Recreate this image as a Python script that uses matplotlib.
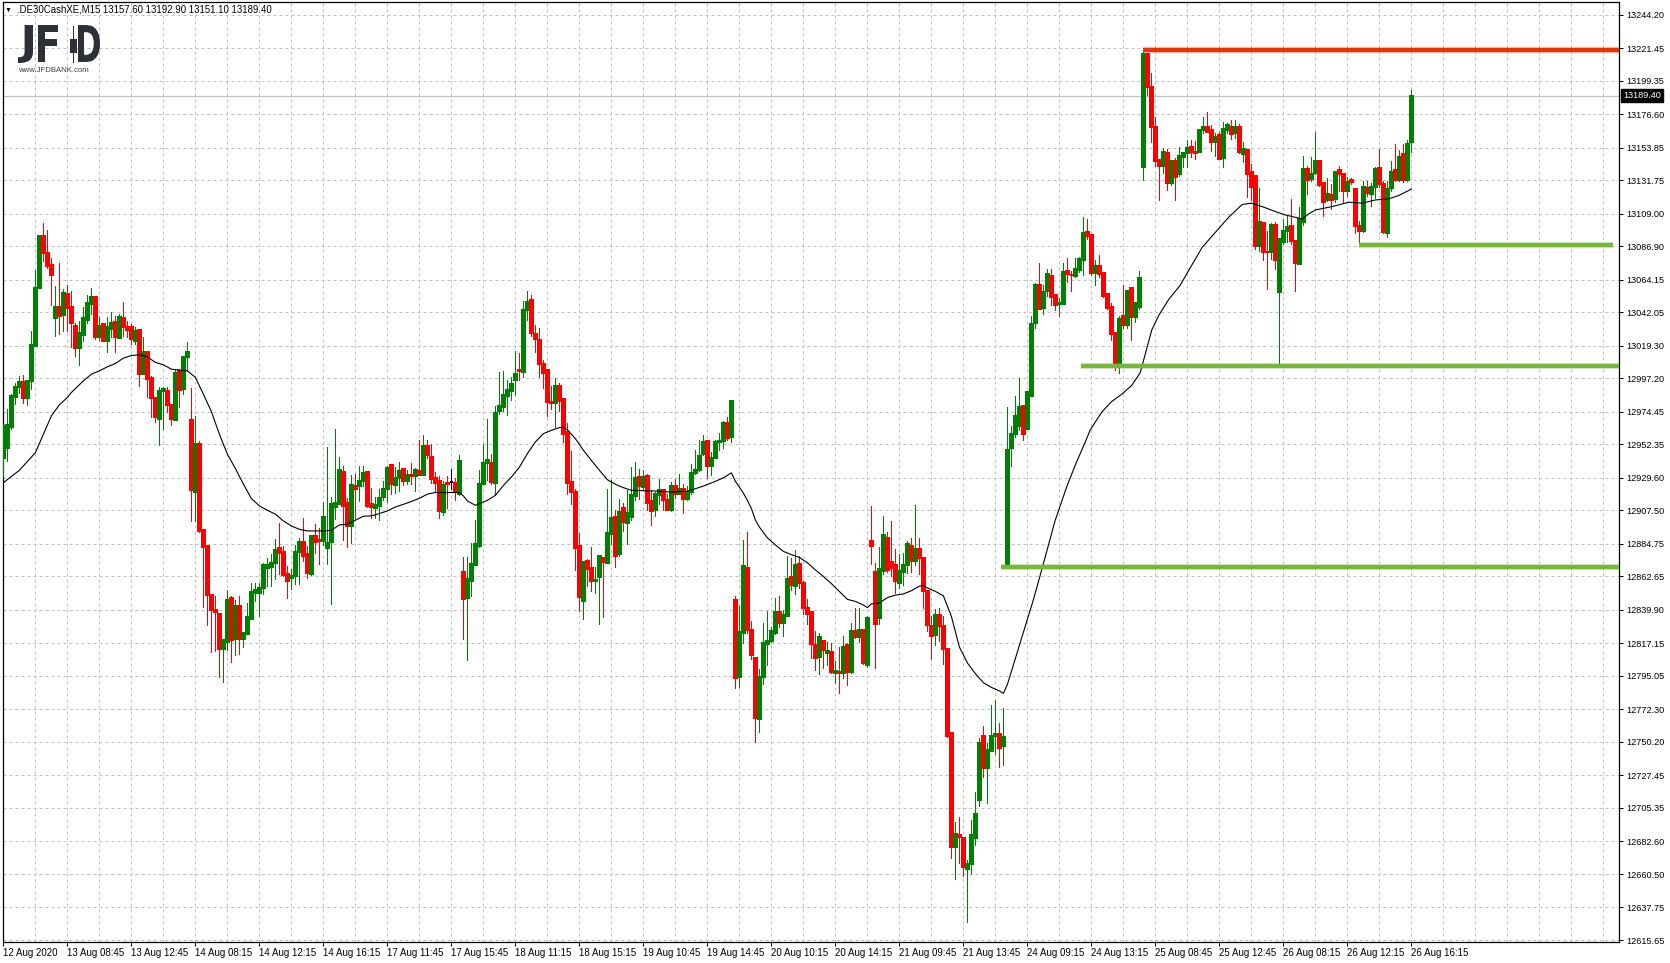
import numpy as np
import matplotlib
matplotlib.use("Agg")
import matplotlib.pyplot as plt
from matplotlib import transforms
from matplotlib.textpath import TextPath
from matplotlib.patches import PathPatch, Rectangle
from matplotlib.font_manager import FontProperties

symbol = ".DE30CashXE,M15"

# M15 bars (open, high, low, close)
bar_open = [
    12943.4, 12949.8, 12964.3, 12984.3, 12991.5, 12994.9, 12983.6, 12995.6, 13019.4, 13058.7,
    13094.3, 13082.2, 13074.5, 13038.0, 13045.9, 13040.5, 13054.8, 13045.9, 13033.0, 13017.6,
    13026.7, 13036.9, 13047.7, 13052.7, 13025.1, 13034.2, 13022.4, 13030.8, 13035.3, 13024.4,
    13038.0, 13032.3, 13032.3, 13022.8, 13030.3, 13000.1, 13014.9, 12997.2, 12983.6, 12970.0,
    12988.8, 12988.8, 12979.3, 12969.3, 13002.4, 12989.9, 13011.5, 12968.8, 12920.3, 12952.5,
    12894.0, 12883.3, 12850.0, 12839.8, 12837.5, 12813.5, 12818.2, 12847.7, 12820.3, 12842.6,
    12819.9, 12823.7, 12833.5, 12851.6, 12851.6, 12855.0, 12868.2, 12869.1, 12872.0, 12882.3,
    12879.3, 12864.6, 12861.4, 12863.0, 12879.3, 12886.1, 12877.7, 12864.6, 12890.2, 12887.7,
    12886.8, 12881.8, 12886.3, 12909.9, 12911.7, 12933.7, 12912.4, 12897.0, 12924.2, 12923.8,
    12927.6, 12933.7, 12911.7, 12909.5, 12910.6, 12916.7, 12921.9, 12938.5, 12924.9, 12929.9,
    12935.6, 12927.6, 12931.7, 12931.0, 12934.4, 12931.7, 12951.4, 12944.0, 12929.4, 12927.6,
    12906.8, 12926.5, 12926.9, 12926.0, 12918.5, 12865.7, 12848.2, 12859.6, 12870.6, 12883.7,
    12925.7, 12939.7, 12939.7, 12926.1, 12974.9, 12977.9, 12985.1, 12988.7, 12996.0, 13002.8,
    13001.7, 13043.6, 13050.4, 13027.3, 13023.2, 13007.3, 13002.8, 12981.3, 12980.8, 12991.9,
    12983.1, 12960.9, 12926.8, 12919.8, 12883.1, 12845.9, 12873.1, 12868.5, 12859.9, 12862.2,
    12875.1, 12871.9, 12891.2, 12903.0, 12877.6, 12909.1, 12898.9, 12903.0, 12917.3, 12930.2,
    12923.4, 12930.7, 12913.9, 12907.6, 12918.2, 12921.2, 12914.8, 12908.0, 12923.9, 12918.9,
    12922.3, 12915.1, 12920.0, 12933.2, 12935.2, 12945.6, 12954.5, 12937.5, 12942.9, 12954.0,
    12954.5, 12966.7, 12957.4, 12846.9, 12794.1, 12824.5, 12868.7, 12826.5, 12807.5, 12765.5,
    12794.1, 12816.5, 12818.9, 12824.5, 12838.6, 12831.1, 12835.5, 12862.2, 12856.1, 12871.4,
    12858.5, 12841.5, 12838.6, 12816.0, 12808.2, 12818.9, 12810.7, 12811.2, 12797.3, 12797.8,
    12797.3, 12816.0, 12797.8, 12825.7, 12821.4, 12826.2, 12802.6, 12887.0, 12865.8, 12834.2,
    12866.5, 12888.9, 12872.4, 12870.2, 12858.5, 12865.8, 12870.2, 12883.6, 12873.1, 12881.1,
    12875.1, 12852.5, 12828.9, 12822.8, 12836.2, 12828.7, 12813.6, 12756.5, 12678.7, 12686.7,
    12684.8, 12664.1, 12667.3, 12684.8, 12711.0, 12754.5, 12732.2, 12744.3, 12754.5, 12755.3,
    12747.5, 12871.2, 12950.1, 12959.8, 12965.2, 12978.8, 12962.7, 12985.3, 13035.1, 13061.0,
    13044.8, 13056.9, 13067.1, 13053.7, 13047.7, 13047.7, 13070.3, 13067.8, 13067.1, 13071.0,
    13077.5, 13096.9, 13095.0, 13069.0, 13073.9, 13069.0, 13054.5, 13046.0, 13027.8, 13005.9,
    13039.4, 13033.4, 13058.9, 13038.7, 13046.0, 13140.6, 13217.6, 13195.2, 13167.8, 13145.5,
    13141.4, 13150.3, 13129.7, 13145.0, 13136.0, 13147.6, 13150.3, 13154.4, 13151.2, 13151.0,
    13165.7, 13168.4, 13165.7, 13157.8, 13162.3, 13146.9, 13165.7, 13168.4, 13163.9, 13168.4,
    13149.8, 13152.6, 13137.4, 13134.6, 13087.0, 13102.7, 13083.4, 13082.9, 13101.8, 13055.7,
    13089.7, 13097.2, 13101.1, 13090.9, 13075.0, 13103.3, 13139.2, 13132.4, 13136.7, 13144.8,
    13129.9, 13118.5, 13122.2, 13119.2, 13138.9, 13135.8, 13124.9, 13132.1, 13126.0, 13100.6,
    13097.2, 13126.5, 13122.6, 13127.6, 13140.3, 13129.0, 13095.9, 13126.7, 13138.9, 13132.1,
    13149.8, 13132.1, 13157.6,
]
bar_high = [
    12965.0, 12976.3, 12986.5, 12993.8, 12999.0, 12999.7, 12995.6, 13029.6, 13071.1, 13094.9,
    13102.9, 13098.3, 13079.1, 13060.2, 13075.4, 13058.0, 13060.9, 13056.8, 13034.6, 13036.0,
    13045.9, 13054.1, 13058.7, 13052.7, 13038.7, 13034.2, 13038.7, 13042.5, 13039.8, 13041.0,
    13048.9, 13036.4, 13034.2, 13031.9, 13030.3, 13025.1, 13014.9, 12999.0, 12983.6, 12991.1,
    12991.5, 12991.1, 12979.3, 13003.5, 13003.5, 13012.6, 13021.7, 12990.6, 12971.8, 12954.8,
    12894.0, 12883.3, 12850.0, 12849.3, 12837.5, 12819.8, 12853.8, 12849.3, 12847.0, 12849.4,
    12824.4, 12844.8, 12858.4, 12858.0, 12858.0, 12872.0, 12875.5, 12877.7, 12888.4, 12899.3,
    12883.4, 12869.8, 12867.5, 12883.9, 12889.1, 12902.7, 12883.4, 12890.2, 12898.1, 12895.9,
    12913.6, 12950.3, 12916.7, 12962.8, 12944.0, 12937.8, 12916.3, 12931.7, 12932.1, 12937.8,
    12937.8, 12934.4, 12922.6, 12916.7, 12921.9, 12927.6, 12937.8, 12939.0, 12937.1, 12940.5,
    12935.6, 12934.9, 12940.1, 12936.7, 12955.5, 12958.9, 12955.5, 12952.6, 12933.7, 12930.6,
    12927.6, 12931.0, 12935.6, 12929.4, 12945.1, 12875.9, 12875.9, 12885.7, 12901.2, 12935.2,
    12952.9, 12969.9, 12946.1, 12978.3, 13001.7, 13002.4, 12996.0, 12998.3, 13016.0, 13014.2,
    13050.0, 13056.6, 13053.8, 13033.4, 13031.2, 13009.6, 13002.8, 12991.9, 12997.8, 12994.2,
    12983.1, 12967.0, 12947.9, 12922.3, 12892.1, 12873.5, 12874.7, 12882.6, 12869.0, 12876.9,
    12875.1, 12921.8, 12928.0, 12907.6, 12915.5, 12912.5, 12921.6, 12937.0, 12940.4, 12935.4,
    12934.8, 12932.5, 12921.2, 12920.0, 12929.1, 12922.3, 12918.9, 12926.8, 12929.1, 12932.5,
    12925.7, 12923.9, 12939.3, 12948.4, 12955.2, 12958.6, 12955.6, 12947.2, 12955.7, 12960.1,
    12968.6, 12971.0, 12982.5, 12849.5, 12842.3, 12887.7, 12893.0, 12832.5, 12807.5, 12799.5,
    12831.1, 12839.1, 12828.2, 12848.1, 12849.5, 12839.8, 12876.3, 12875.1, 12880.4, 12876.8,
    12859.7, 12847.6, 12838.6, 12825.7, 12824.5, 12819.7, 12818.4, 12817.2, 12805.1, 12814.8,
    12822.1, 12817.2, 12831.1, 12841.5, 12841.0, 12826.2, 12835.9, 12910.8, 12871.9, 12882.8,
    12904.0, 12892.6, 12900.6, 12881.1, 12878.0, 12878.7, 12886.5, 12888.9, 12911.5, 12888.9,
    12875.1, 12852.5, 12835.5, 12840.3, 12841.0, 12835.5, 12813.6, 12756.5, 12695.7, 12699.4,
    12684.8, 12670.2, 12697.4, 12715.9, 12752.8, 12761.3, 12749.2, 12775.2, 12778.8, 12763.0,
    12773.5, 12978.0, 12964.7, 12985.3, 12997.4, 12979.2, 12988.9, 13039.4, 13062.2, 13075.8,
    13061.0, 13071.9, 13071.9, 13054.0, 13051.6, 13075.8, 13079.2, 13070.3, 13079.2, 13080.0,
    13106.7, 13105.4, 13095.7, 13077.5, 13081.2, 13069.5, 13054.5, 13048.4, 13027.8, 13039.4,
    13060.5, 13056.9, 13059.3, 13048.4, 13070.3, 13220.0, 13217.6, 13205.0, 13174.6, 13145.5,
    13154.0, 13152.8, 13145.5, 13147.0, 13154.4, 13150.3, 13159.4, 13158.9, 13158.4, 13165.7,
    13175.2, 13178.2, 13169.1, 13163.9, 13164.6, 13171.4, 13170.7, 13172.9, 13172.9, 13170.2,
    13157.8, 13153.2, 13143.0, 13134.6, 13126.7, 13102.7, 13097.7, 13102.7, 13103.3, 13092.0,
    13105.6, 13107.9, 13119.2, 13090.9, 13113.5, 13148.7, 13141.4, 13147.6, 13165.0, 13145.3,
    13130.6, 13133.5, 13129.4, 13138.5, 13141.9, 13135.8, 13133.9, 13133.5, 13126.0, 13104.5,
    13131.7, 13131.7, 13129.9, 13141.2, 13153.2, 13131.7, 13131.7, 13145.3, 13156.6, 13152.1,
    13156.6, 13158.9, 13192.9,
]
bar_low = [
    12931.0, 12941.2, 12963.0, 12979.7, 12987.0, 12980.2, 12979.0, 12989.9, 13019.4, 13058.7,
    13077.2, 13072.0, 13047.3, 13026.2, 13027.4, 13029.6, 13029.6, 13018.3, 13012.6, 13006.5,
    13022.8, 13034.6, 13041.0, 13024.0, 13023.3, 13022.4, 13014.9, 13025.1, 13014.9, 13024.4,
    13026.2, 13025.1, 13020.5, 13020.5, 12992.2, 13000.1, 12984.7, 12971.1, 12967.7, 12951.8,
    12962.7, 12974.1, 12965.7, 12969.3, 12977.5, 12986.5, 13002.4, 12900.3, 12900.3, 12892.9,
    12841.8, 12829.6, 12811.4, 12812.3, 12794.2, 12791.0, 12813.0, 12804.6, 12809.6, 12810.1,
    12814.7, 12823.7, 12833.5, 12846.0, 12835.8, 12850.5, 12856.2, 12856.2, 12860.7, 12864.6,
    12863.0, 12848.2, 12853.9, 12857.8, 12857.8, 12873.2, 12861.4, 12863.7, 12878.9, 12871.4,
    12884.1, 12870.9, 12844.2, 12901.5, 12911.7, 12887.2, 12882.7, 12885.7, 12902.7, 12914.0,
    12924.2, 12909.9, 12902.2, 12902.7, 12900.9, 12914.5, 12913.6, 12919.0, 12919.7, 12920.8,
    12924.9, 12925.8, 12925.8, 12920.8, 12931.7, 12931.7, 12943.0, 12926.0, 12920.8, 12902.7,
    12904.3, 12909.5, 12922.0, 12914.5, 12918.1, 12819.9, 12805.6, 12849.4, 12870.6, 12882.6,
    12925.7, 12927.9, 12925.2, 12917.8, 12973.3, 12975.2, 12972.2, 12982.4, 12985.8, 12996.0,
    12998.3, 13037.2, 13026.0, 13015.3, 12998.3, 12991.0, 12971.5, 12976.7, 12964.3, 12975.1,
    12954.0, 12918.9, 12911.6, 12867.2, 12839.5, 12833.8, 12856.1, 12853.1, 12851.3, 12830.4,
    12835.0, 12871.9, 12884.9, 12869.0, 12876.9, 12893.5, 12884.9, 12901.2, 12914.4, 12915.0,
    12921.6, 12907.6, 12897.3, 12903.5, 12911.6, 12908.0, 12907.6, 12907.1, 12916.2, 12918.4,
    12905.7, 12914.4, 12918.9, 12932.5, 12934.3, 12945.0, 12929.6, 12931.4, 12942.9, 12948.4,
    12949.7, 12955.7, 12954.0, 12786.9, 12787.3, 12817.2, 12824.5, 12806.3, 12749.9, 12757.0,
    12789.3, 12802.6, 12818.4, 12823.3, 12828.2, 12822.1, 12835.5, 12853.7, 12850.8, 12854.9,
    12837.4, 12830.6, 12807.5, 12799.0, 12796.1, 12800.2, 12802.2, 12797.1, 12790.5, 12783.2,
    12793.7, 12788.8, 12797.1, 12820.9, 12818.4, 12803.4, 12801.4, 12871.4, 12800.7, 12830.6,
    12864.1, 12865.8, 12862.7, 12851.3, 12854.9, 12856.8, 12865.1, 12865.8, 12870.7, 12864.6,
    12841.0, 12825.7, 12806.3, 12816.0, 12818.9, 12803.4, 12753.3, 12671.4, 12656.8, 12667.8,
    12659.3, 12627.7, 12660.5, 12679.9, 12706.6, 12726.6, 12708.6, 12744.3, 12741.9, 12733.4,
    12734.6, 12871.2, 12938.0, 12957.4, 12962.3, 12955.7, 12962.7, 12985.3, 13031.4, 13044.3,
    13041.1, 13053.3, 13047.2, 13043.6, 13039.4, 13047.7, 13063.0, 13056.4, 13066.1, 13069.5,
    13067.3, 13092.1, 13067.3, 13060.5, 13066.1, 13052.5, 13044.3, 13023.4, 13003.0, 13001.1,
    13031.4, 13031.4, 13023.4, 13035.8, 13044.3, 13132.1, 13189.9, 13157.6, 13141.9, 13118.3,
    13137.0, 13125.3, 13128.5, 13118.2, 13135.0, 13141.2, 13140.8, 13148.0, 13146.2, 13151.0,
    13164.1, 13164.6, 13151.6, 13148.7, 13146.0, 13140.8, 13163.9, 13160.0, 13160.7, 13150.3,
    13144.2, 13120.4, 13118.5, 13085.2, 13084.1, 13077.7, 13058.0, 13078.4, 13071.6, 13007.4,
    13088.6, 13089.7, 13088.6, 13056.4, 13075.0, 13101.8, 13122.6, 13131.7, 13135.8, 13128.3,
    13107.9, 13117.6, 13112.4, 13116.9, 13124.9, 13116.5, 13121.5, 13129.4, 13095.9, 13089.7,
    13096.5, 13121.5, 13114.7, 13119.7, 13127.2, 13095.9, 13093.1, 13124.9, 13131.7, 13131.7,
    13130.6, 13131.7, 13151.1,
]
bar_close = [
    12965.0, 12965.7, 12985.4, 12991.5, 12994.9, 12983.6, 12995.6, 13020.1, 13058.7, 13093.8,
    13082.2, 13073.4, 13067.7, 13045.9, 13039.8, 13055.5, 13044.8, 13034.6, 13017.6, 13028.3,
    13038.0, 13048.2, 13052.3, 13025.5, 13033.0, 13022.8, 13031.9, 13034.6, 13025.1, 13039.1,
    13031.9, 13030.3, 13024.0, 13029.6, 13000.1, 13015.3, 12996.7, 12983.6, 12970.7, 12988.8,
    12989.9, 12979.3, 12970.0, 13001.0, 12989.7, 13011.9, 13015.3, 12921.7, 12952.5, 12893.5,
    12882.9, 12850.0, 12839.8, 12838.7, 12813.5, 12819.8, 12846.6, 12819.4, 12842.5, 12819.9,
    12824.4, 12835.1, 12852.1, 12853.5, 12855.0, 12870.5, 12870.5, 12872.0, 12880.7, 12878.9,
    12863.7, 12859.6, 12863.0, 12879.3, 12886.1, 12876.6, 12865.2, 12890.2, 12886.3, 12886.8,
    12903.1, 12885.7, 12911.7, 12912.4, 12934.9, 12910.6, 12897.0, 12924.9, 12922.4, 12927.6,
    12932.8, 12910.6, 12910.2, 12911.1, 12916.3, 12921.9, 12936.2, 12925.3, 12929.4, 12934.4,
    12927.2, 12931.7, 12930.6, 12935.1, 12931.7, 12951.4, 12945.1, 12928.8, 12926.5, 12907.2,
    12924.9, 12925.8, 12926.9, 12920.4, 12941.2, 12847.1, 12860.7, 12870.9, 12884.9, 12925.7,
    12939.7, 12941.6, 12926.8, 12974.0, 12978.3, 12985.8, 12989.2, 12993.7, 13000.1, 13002.4,
    13043.6, 13048.9, 13027.8, 13023.9, 13007.3, 13001.0, 12981.3, 12980.6, 12991.9, 12981.9,
    12959.7, 12926.4, 12920.1, 12881.9, 12848.6, 12872.4, 12867.6, 12859.3, 12860.4, 12876.9,
    12872.8, 12892.1, 12902.3, 12876.9, 12906.4, 12899.6, 12905.7, 12917.8, 12929.5, 12923.9,
    12930.2, 12912.5, 12907.1, 12918.4, 12921.2, 12914.4, 12908.0, 12923.9, 12918.4, 12922.3,
    12915.1, 12920.0, 12933.2, 12935.2, 12944.3, 12954.1, 12937.5, 12942.9, 12954.0, 12955.0,
    12967.2, 12957.0, 12981.7, 12793.7, 12825.0, 12870.0, 12826.5, 12809.4, 12766.2, 12794.6,
    12817.2, 12818.9, 12825.7, 12838.6, 12831.3, 12836.2, 12861.0, 12856.6, 12870.7, 12858.5,
    12841.5, 12837.4, 12816.7, 12807.5, 12821.6, 12812.4, 12811.9, 12797.8, 12798.3, 12797.3,
    12814.8, 12797.8, 12825.7, 12821.4, 12826.5, 12803.9, 12834.7, 12883.6, 12830.6, 12867.5,
    12890.6, 12867.0, 12868.7, 12859.3, 12866.6, 12870.7, 12884.5, 12873.1, 12881.6, 12875.5,
    12852.5, 12829.4, 12822.1, 12836.7, 12828.9, 12813.1, 12754.5, 12678.7, 12687.7, 12685.8,
    12665.3, 12667.3, 12686.7, 12701.3, 12749.2, 12732.7, 12744.8, 12754.5, 12755.7, 12746.3,
    12753.3, 12948.9, 12959.8, 12972.0, 12978.0, 12959.8, 12987.7, 13034.3, 13060.5, 13044.3,
    13056.2, 13068.5, 13052.5, 13047.2, 13048.4, 13069.5, 13068.5, 13067.3, 13071.5, 13078.3,
    13096.2, 13093.8, 13069.0, 13073.9, 13068.5, 13053.2, 13045.3, 13027.3, 13005.5, 13037.5,
    13033.4, 13056.9, 13038.7, 13048.4, 13065.4, 13217.6, 13195.2, 13167.8, 13144.8, 13141.4,
    13151.1, 13129.7, 13145.0, 13134.0, 13148.7, 13150.3, 13153.7, 13151.0, 13150.5, 13165.7,
    13168.4, 13165.0, 13157.8, 13161.6, 13146.0, 13166.4, 13169.1, 13163.4, 13168.4, 13151.0,
    13152.8, 13135.8, 13127.6, 13087.5, 13103.3, 13082.9, 13082.9, 13101.8, 13077.9, 13092.0,
    13097.7, 13100.4, 13090.9, 13075.4, 13105.6, 13139.2, 13132.1, 13136.2, 13145.3, 13128.7,
    13117.0, 13122.6, 13118.5, 13137.8, 13135.8, 13124.9, 13130.6, 13130.6, 13100.6, 13097.7,
    13127.2, 13123.1, 13127.6, 13139.6, 13129.0, 13096.5, 13126.0, 13137.4, 13132.1, 13148.0,
    13132.1, 13156.6, 13189.4,
]

# moving average drawn on the chart (bar position, value)
ma_bar = [
    0, 4, 8, 10, 12, 14, 16, 17, 20, 22, 24, 26, 28, 30, 32, 34, 36, 38, 40, 42,
    44, 46, 48, 50, 52, 54, 56, 58, 60, 62, 64, 66, 68, 70, 72, 74, 76, 80, 82, 84,
    86, 88, 90, 92, 94, 96, 98, 100, 102, 104, 106, 108, 114, 115, 116, 118, 121, 123, 125, 127,
    129, 131, 133, 135, 137, 139, 140, 141, 143, 145, 147, 149, 151, 153, 155, 157, 163, 167, 171, 173,
    175, 178, 180, 182, 183, 184, 185, 186, 187, 188, 189, 191, 193, 195, 197, 199, 201, 203, 205, 207,
    209, 211, 213, 215, 216, 217, 219, 221, 223, 225, 227, 229, 230, 231, 233, 235, 237, 239, 241, 243,
    245, 247, 249, 250, 251, 257.5, 259.6, 262.9, 265.8, 267.9, 270.4, 271.7, 274.6, 277.1, 279.6, 282.1,
    284.2, 285.4, 287.1, 288.8, 291.3, 294.2, 296.3, 299.7, 303, 306.3, 309.7, 312, 314.7, 318,
    320.5, 323, 324.7, 326.3, 328, 331.3, 333.8, 336.3, 339.7, 343, 346.3, 348.8, 351.3, 352,
]
ma_value = [
    12926.4, 12934.8, 12946.8, 12959.3, 12971.8, 12979.3, 12984.3, 12987.7, 12995.6, 13000.1,
    13002.4, 13005.1, 13007.4, 13011.0, 13012.8, 13013.3, 13011.9, 13008.1, 13006.5, 13003.5,
    13002.9, 13002.4, 12997.9, 12986.5, 12974.7, 12959.3, 12945.7, 12936.0, 12925.4, 12915.6,
    12910.6, 12907.6, 12905.0, 12900.4, 12897.0, 12894.7, 12893.6, 12893.6, 12894.0, 12897.7,
    12898.2, 12900.9, 12903.6, 12903.8, 12905.4, 12907.2, 12909.9, 12911.7, 12913.6, 12915.8,
    12918.6, 12919.7, 12919.7, 12917.4, 12914.0, 12911.0, 12914.4, 12917.8, 12924.5, 12930.2,
    12937.0, 12946.1, 12954.1, 12959.7, 12962.0, 12963.8, 12964.0, 12962.4, 12956.3, 12948.4,
    12941.5, 12934.8, 12928.4, 12925.3, 12923.0, 12921.2, 12920.7, 12920.0, 12920.6, 12922.3,
    12924.1, 12927.3, 12929.7, 12933.1, 12927.3, 12923.4, 12919.3, 12914.4, 12908.8, 12901.0,
    12896.2, 12888.9, 12884.1, 12879.7, 12877.5, 12875.6, 12872.0, 12867.1, 12862.7, 12857.8,
    12852.5, 12847.1, 12845.7, 12843.2, 12841.5, 12844.0, 12844.7, 12848.3, 12850.0, 12850.8,
    12853.0, 12856.1, 12856.6, 12854.9, 12852.5, 12849.5, 12835.5, 12814.8, 12803.9, 12796.6,
    12790.5, 12787.3, 12784.9, 12783.2, 12789.3, 12846.9, 12867.4, 12900.4, 12923.4, 12937.9,
    12953.7, 12962.2, 12974.4, 12981.6, 12986.5, 12992.6, 13001.1, 13013.2, 13030.2, 13039.9,
    13050.8, 13060.5, 13070.5, 13086.3, 13096.5, 13106.7, 13115.4, 13116.3, 13114.0, 13110.6,
    13108.3, 13106.7, 13105.6, 13109.0, 13111.7, 13113.5, 13115.1, 13117.0, 13116.3, 13118.5,
    13119.2, 13121.5, 13124.9, 13126.0,
]

# hand drawn levels: price, first bar, last bar
level_price = [13220.5, 13088.1, 13005.5, 12869.0]
level_start = [285, 339, 269.5, 249.5]
level_end = [404, 402.5, 404, 404]
level_color = ["#e5330c", "#78b53f", "#78b53f", "#78b53f"]

xtick_labels = [
    "12 Aug 2020", "13 Aug 08:45", "13 Aug 12:45", "14 Aug 08:15", "14 Aug 12:15",
    "14 Aug 16:15", "17 Aug 11:45", "17 Aug 15:45", "18 Aug 11:15", "18 Aug 15:15",
    "19 Aug 10:45", "19 Aug 14:45", "20 Aug 10:15", "20 Aug 14:15", "21 Aug 09:45",
    "21 Aug 13:45", "24 Aug 09:15", "24 Aug 13:15", "25 Aug 08:45", "25 Aug 12:45",
    "26 Aug 08:15", "26 Aug 12:15", "26 Aug 16:15",
]
ytick_values = [
    13244.20, 13221.45, 13199.35, 13176.60, 13153.85, 13131.75, 13109.00, 13086.90,
    13064.15, 13042.05, 13019.30, 12997.20, 12974.45, 12952.35, 12929.60, 12907.50,
    12884.75, 12862.65, 12839.90, 12817.15, 12795.05, 12772.30, 12750.20, 12727.45,
    12705.35, 12682.60, 12660.50, 12637.75, 12615.65,
]

plt.rcParams["font.family"] = ["Liberation Sans", "DejaVu Sans"]

W, H = 1670, 963
fig = plt.figure(figsize=(W / 100, H / 100), dpi=100)
ax = fig.add_axes([3 / W, 1 - 942 / H, 1616 / W, 940 / H])

o = np.array(bar_open)
h = np.array(bar_high)
l = np.array(bar_low)
c = np.array(bar_close)
x = np.arange(len(c))
cols = np.where(c > o, "#008000", np.where(c < o, "#ff0000", "#000000"))

# candles
ax.vlines(x, l, h, colors=cols, lw=0.72, zorder=3, antialiased=False)
ax.bar(x, np.abs(c - o), bottom=np.minimum(o, c), width=0.75, color=cols,
       edgecolor=cols, lw=0.3, zorder=4, antialiased=False)

# moving average
ax.plot(ma_bar, ma_value, color="black", lw=0.8, zorder=5)

# current price line
ax.axhline(c[-1], color="#c0c0c0", lw=0.9, zorder=1)

# levels
for p, s, e, col in zip(level_price, level_start, level_end, level_color):
    ax.hlines(p, s, e, color=col, lw=4.6, alpha=0.35, zorder=6)
    ax.hlines(p, s, e, color=col, lw=2.9, zorder=7)

ax.set_xlim(-0.1, 403.9)
ax.set_ylim(12614.3, 13253.0)

# axes, ticks and grid
ax.yaxis.tick_right()
ax.set_yticks(ytick_values)
ax.set_yticklabels([f"{v:.2f}" for v in ytick_values])
ax.set_xticks(np.arange(0, len(c), 16))
ax.set_xticklabels(xtick_labels)
ax.set_xticks(np.arange(0, 405, 8), minor=True)
for lab in ax.get_xticklabels():
    lab.set_ha("left")
ax.tick_params(axis="x", which="major", length=3, width=0.72, pad=1.5, labelsize=7)
ax.tick_params(axis="x", which="minor", length=0)
ax.tick_params(axis="y", length=3, width=0.72, pad=2, labelsize=6.6)
ax.grid(which="both", color="#c0c0c0", lw=0.72, ls=(0, (3, 3)), zorder=0)
ax.set_axisbelow(True)
for sp in ax.spines.values():
    sp.set_linewidth(0.9)

# price box on the right
tr = transforms.blended_transform_factory(ax.transAxes, ax.transData)
ax.text(1.0025, c[-1], f"{c[-1]:.2f}", transform=tr, color="white", fontsize=6.6,
        va="center", ha="left",
        bbox=dict(facecolor="black", edgecolor="black", pad=1.6), zorder=10, clip_on=False)

# header
fig.text(5 / W, 1 - 10 / H, "\u25bc", fontsize=5, va="center", ha="left")
fig.text(17 / W, 1 - 10 / H,
         f"{symbol} {o[-1]:.2f} {h[-1]:.2f} {l[-1]:.2f} {c[-1]:.2f}",
         fontsize=6.9, va="center", ha="left")

# JFD logo
fp = FontProperties(family="DejaVu Sans", weight="bold")
logo_col = "#2c3137"


def logo_letter(ch, x0, x1, y0, y1):
    tp = TextPath((0, 0), ch, size=100, prop=fp)
    bb = tp.get_extents()
    t = transforms.Affine2D().translate(-bb.x0, -bb.y0).scale(
        (x1 - x0) / bb.width, (y1 - y0) / bb.height).translate(x0, H - y1)
    fig.add_artist(PathPatch(t.transform_path(tp), facecolor=logo_col, lw=0,
                             transform=transforms.IdentityTransform()))


logo_letter("J", 18, 33, 25, 63)
logo_letter("F", 38, 58, 25, 62)
logo_letter("D", 78, 100, 25, 62)
fig.add_artist(Rectangle((72.5, H - 63), 1.5, 37, facecolor=logo_col, lw=0,
                         transform=transforms.IdentityTransform()))
fig.add_artist(Rectangle((70, H - 53), 6.5, 14, facecolor=logo_col, lw=0,
                         transform=transforms.IdentityTransform()))
fig.text(18 / W, 1 - 70 / H, "www.JFDBANK.com", fontsize=5.6, color="#3a3f45",
         va="center", ha="left")

fig.savefig("out.png", dpi=100, facecolor="white")
